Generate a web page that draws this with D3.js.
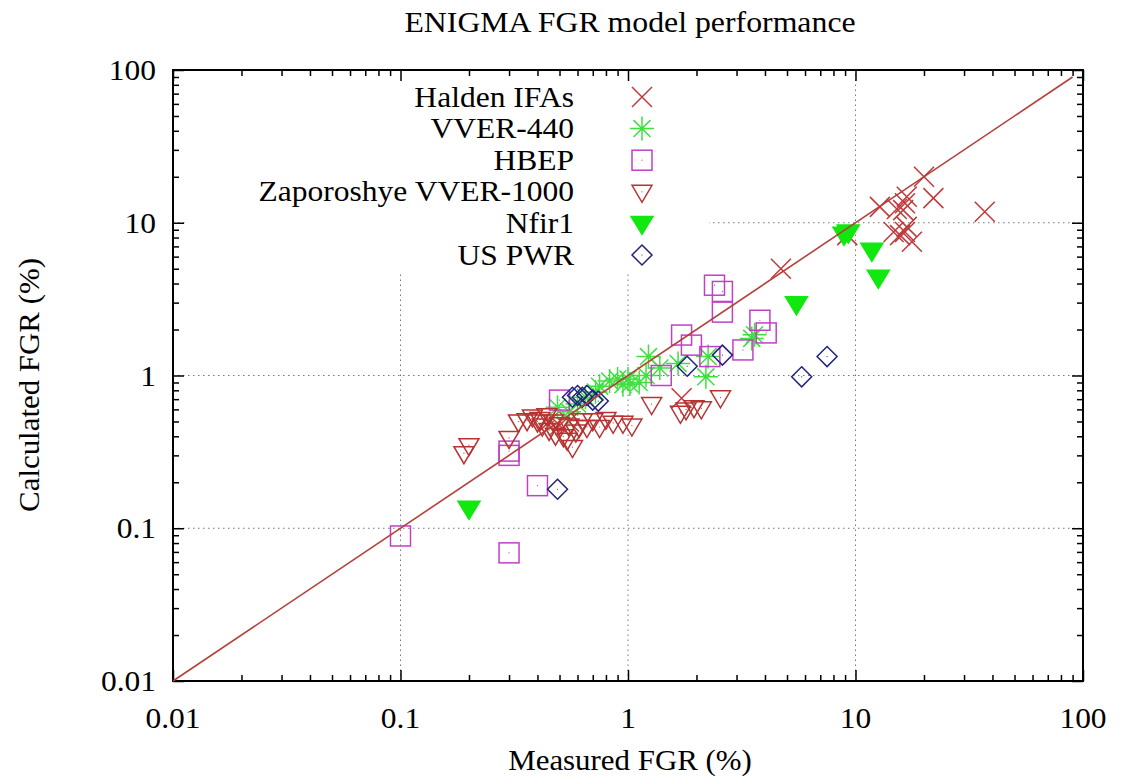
<!DOCTYPE html>
<html>
<head>
<meta charset="utf-8">
<script src="https://cdn.jsdelivr.net/npm/d3@7"></script>
<style>
  html, body { margin: 0; padding: 0; background: #fff; }
  svg { display: block; font-family: "Liberation Serif", "DejaVu Serif", serif; }
</style>
</head>
<body>
<svg id="chart" width="1121" height="778"></svg>
<script>
// ---------- data (measured FGR %, calculated FGR %) ----------
const haldenIFAs = [
  [20, 20], [22, 14.5], [37, 11.8], [12.8, 12.7], [16.5, 13.4], [16.2, 12.1],
  [16.8, 14.8], [15.2, 12.3], [14.7, 8.7], [15.7, 8.3], [16.8, 9.4], [16.5, 8.7],
  [17.7, 7.5], [9.2, 8.3], [4.7, 5.0], [1.72, 0.71], [0.45, 0.5], [0.5, 0.47], [0.55, 0.5]
];
const vver440 = [
  [0.49, 0.62], [0.55, 0.58], [0.6, 0.65], [0.65, 0.72], [0.72, 0.78], [0.75, 0.85],
  [0.83, 0.92], [0.9, 0.95], [1.0, 0.95], [1.02, 0.88], [1.12, 0.9], [1.2, 1.0],
  [1.23, 1.33], [1.38, 1.12], [1.66, 1.2], [2.2, 0.98], [2.25, 1.33], [3.5, 1.75],
  [3.6, 1.85], [0.95, 0.87]
];
const hbep = [
  [0.1, 0.089], [0.3, 0.069], [0.3, 0.32], [0.3, 0.30], [0.4, 0.19], [0.5, 0.69],
  [1.4, 1.0], [1.72, 1.84], [1.9, 1.58], [2.29, 1.33], [2.4, 3.9], [2.6, 3.55],
  [2.6, 2.6], [3.2, 1.47], [3.8, 2.3], [4.05, 1.9]
];
const zaporoshye = [
  [0.19, 0.31], [0.2, 0.35], [0.3, 0.39], [0.33, 0.5], [0.36, 0.51], [0.38, 0.54],
  [0.41, 0.52], [0.42, 0.47], [0.45, 0.44], [0.48, 0.41], [0.52, 0.4], [0.54, 0.38],
  [0.57, 0.34], [0.59, 0.43], [0.63, 0.51], [0.66, 0.46], [0.7, 0.51], [0.75, 0.46],
  [0.8, 0.52], [0.86, 0.49], [0.95, 0.49], [1.04, 0.47], [1.27, 0.65], [1.7, 0.57],
  [1.8, 0.6], [1.95, 0.62], [2.1, 0.61], [2.55, 0.72], [0.5, 0.48], [0.47, 0.5],
  [0.61, 0.46], [0.55, 0.47], [0.4, 0.5], [0.44, 0.55]
];
const nfir1 = [
  [0.2, 0.135], [5.5, 2.95], [8.9, 8.4], [9.3, 8.7], [11.8, 6.6], [12.6, 4.4]
];
const usPWR = [
  [0.49, 0.18], [0.57, 0.72], [0.6, 0.74], [0.63, 0.72], [0.66, 0.74], [0.7, 0.69],
  [0.74, 0.68], [1.82, 1.15], [2.6, 1.36], [5.8, 0.98], [7.5, 1.33]
];
const seriesNames = ["Halden IFAs", "VVER-440", "HBEP", "Zaporoshye VVER-1000", "Nfir1", "US PWR"];
const majorTicks = [0.01, 0.1, 1, 10, 100];
const tickLabels = ["0.01", "0.1", "1", "10", "100"];
const identityLine = [[0.01, 0.01], [90, 90]];
const titleText = "ENIGMA FGR model performance";
const xLabel = "Measured FGR (%)";
const yLabel = "Calculated FGR (%)";

// ---------- layout ----------
const svg = d3.select("#chart");
const L = 173, R = 1083, T = 70, B = 681;
const x = d3.scaleLog().domain([0.01, 100]).range([L, R]);
const y = d3.scaleLog().domain([0.01, 100]).range([B, T]);
const FS = 30, SX = 1.05;

function addText(px, py, str, opts = {}) {
  const size = opts.size || FS, sx = opts.sx || SX, rot = opts.rotate || 0;
  svg.append("g").attr("transform", `translate(${px},${py}) rotate(${rot}) scale(${sx},1)`)
    .append("text").attr("text-anchor", opts.anchor || "middle")
    .attr("font-size", size).attr("fill", "#000").text(str);
}

const minorTicks = [];
for (let d = 0.01; d < 100; d *= 10) for (let k = 2; k <= 9; k++) minorTicks.push(+(d * k).toPrecision(3));

// grid
const grid = svg.append("g").attr("stroke", "#777").attr("stroke-width", 1).attr("stroke-dasharray", "1.5,3.5");
majorTicks.slice(1, -1).forEach(v => {
  grid.append("line").attr("x1", x(v)).attr("x2", x(v)).attr("y1", B).attr("y2", T);
  grid.append("line").attr("y1", y(v)).attr("y2", y(v)).attr("x1", L).attr("x2", R);
});
// opaque legend box interrupts grid
svg.append("rect").attr("x", L + 14).attr("y", T + 2).attr("width", 709 - L - 14).attr("height", 273 - T - 2).attr("fill", "#fff");

// axes (ticks inward on all four sides)
function styleAxis(g) {
  g.select(".domain").remove();
  g.selectAll("line").attr("stroke", "#000").attr("stroke-width", 1.5);
  g.selectAll("text").remove();
}
svg.append("g").attr("transform", `translate(0,${B})`)
  .call(d3.axisBottom(x).tickValues(majorTicks).tickSize(-11)).call(styleAxis);
svg.append("g").attr("transform", `translate(0,${B})`)
  .call(d3.axisBottom(x).tickValues(minorTicks).tickSize(-6)).call(styleAxis);
svg.append("g").attr("transform", `translate(0,${T})`)
  .call(d3.axisTop(x).tickValues(majorTicks).tickSize(-11)).call(styleAxis);
svg.append("g").attr("transform", `translate(0,${T})`)
  .call(d3.axisTop(x).tickValues(minorTicks).tickSize(-6)).call(styleAxis);
svg.append("g").attr("transform", `translate(${L},0)`)
  .call(d3.axisLeft(y).tickValues(majorTicks).tickSize(-11)).call(styleAxis);
svg.append("g").attr("transform", `translate(${L},0)`)
  .call(d3.axisLeft(y).tickValues(minorTicks).tickSize(-6)).call(styleAxis);
svg.append("g").attr("transform", `translate(${R},0)`)
  .call(d3.axisRight(y).tickValues(majorTicks).tickSize(-11)).call(styleAxis);
svg.append("g").attr("transform", `translate(${R},0)`)
  .call(d3.axisRight(y).tickValues(minorTicks).tickSize(-6)).call(styleAxis);

// tick labels (positioned with the scales)
majorTicks.forEach((v, i) => {
  addText(x(v), B + 47, tickLabels[i]);
  addText(L - 17, y(v) + 10, tickLabels[i], { anchor: "end" });
});

// frame
svg.append("rect").attr("x", L).attr("y", T).attr("width", R - L).attr("height", B - T)
  .attr("fill", "none").attr("stroke", "#000").attr("stroke-width", 2);

// ---------- markers ----------
const S = 10; // half size
const markerDefs = [
  { data: haldenIFAs, color: "#c0393b", draw: (g) => g.append("path").attr("d", `M${-S},${-S}L${S},${S}M${-S},${S}L${S},${-S}`).attr("fill", "none") },
  { data: vver440, color: "#3fe03f", draw: (g) => {
      const a = S * 1.2, b = a * 0.7071;
      g.append("path").attr("d", `M${-a},0L${a},0M0,${-a}L0,${a}M${-b},${-b}L${b},${b}M${-b},${b}L${b},${-b}`).attr("fill", "none"); } },
  { data: hbep, color: "#c040c8", draw: (g) => { g.append("rect").attr("x", -S).attr("y", -S).attr("width", 2 * S).attr("height", 2 * S).attr("fill", "none");
      g.append("circle").attr("r", 0.6).attr("stroke", "none").attr("fill", "#c040c8"); } },
  { data: zaporoshye, color: "#b83232", draw: (g) => { g.append("path").attr("d", `M${-S},${-S * 0.65}L${S},${-S * 0.65}L0,${S * 1.05}Z`).attr("fill", "none");
      g.append("circle").attr("r", 0.6).attr("stroke", "none").attr("fill", "#b83232"); } },
  { data: nfir1, color: "#10e810", draw: (g) => g.append("path").attr("d", `M${-S * 1.1},${-S * 0.7}L${S * 1.1},${-S * 0.7}L0,${S * 1.1}Z`).attr("fill", "#10e810") },
  { data: usPWR, color: "#23237f", draw: (g) => { g.append("path").attr("d", `M0,${-S}L${S},0L0,${S}L${-S},0Z`).attr("fill", "none");
      g.append("circle").attr("r", 0.6).attr("stroke", "none").attr("fill", "#23237f"); } }
];

const plot = svg.append("g");
markerDefs.forEach(m => {
  plot.append("g").selectAll("g").data(m.data).join("g")
    .attr("transform", d => `translate(${x(d[0])},${y(d[1])})`)
    .attr("stroke", m.color).attr("stroke-width", 1.5)
    .each(function () { m.draw(d3.select(this)); });
});

// identity line
svg.append("path").datum(identityLine)
  .attr("d", d3.line().x(d => x(d[0])).y(d => y(d[1])))
  .attr("fill", "none").attr("stroke", "#b5403a").attr("stroke-width", 1.6);

// ---------- legend ----------
const legY0 = 97, legDY = 31.6, legTextX = 574, legMarkX = 642;
seriesNames.forEach((name, i) => {
  const yy = legY0 + i * legDY;
  addText(legTextX, yy + 9.5, name, { anchor: "end", size: 28.4, sx: 1.11 });
  const m = markerDefs[i];
  const g = svg.append("g").attr("transform", `translate(${legMarkX},${yy})`)
    .attr("stroke", m.color).attr("stroke-width", 1.5);
  m.draw(g);
});

// ---------- titles ----------
addText(630, 32, titleText, { sx: 1.06 });
addText(630, 770, xLabel, { sx: 1.03 });
addText(39, 385, yLabel, { rotate: -90, sx: 1.03 });
</script>
</body>
</html>
